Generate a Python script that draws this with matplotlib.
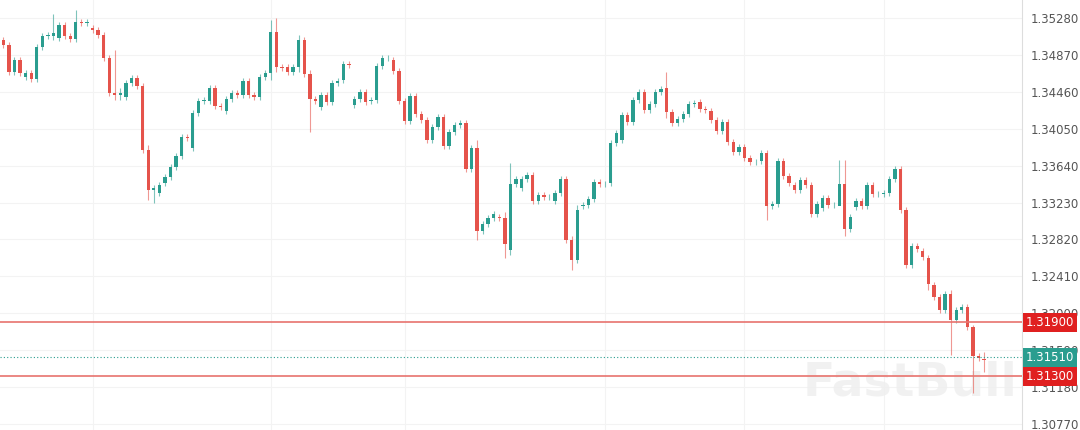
import numpy as np
import matplotlib.pyplot as plt
from matplotlib.patches import Rectangle

body_px = [
    (40, 45), (45, 72), (72, 60), (60, 73), (77, 73), (73, 79), (79, 47), (47, 36), (36, 35), (36, 33),
    (38, 25), (25, 36), (36, 39), (39, 22), (22, 23), (23, 22), (28, 30), (30, 35), (35, 58), (58, 93),
    (93, 95), (95, 93), (97, 83), (83, 78), (78, 86), (86, 150), (150, 190), (190, 188), (193, 185), (183, 177),
    (177, 167), (167, 156), (156, 137), (137, 138), (148, 113), (113, 101), (101, 100), (101, 88), (88, 106), (106, 107),
    (111, 99), (99, 93), (93, 95), (95, 81), (81, 95), (95, 97), (97, 77), (77, 73), (73, 32), (32, 67),
    (67, 68), (67, 72), (72, 67), (67, 40), (40, 74), (74, 99), (99, 101), (107, 95), (95, 102), (102, 83),
    (83, 81), (80, 64), (64, 65), (105, 99), (99, 92), (92, 102), (101, 100), (100, 66), (66, 58), (58, 58),
    (60, 71), (71, 101), (101, 121), (121, 96), (96, 114), (114, 120), (120, 140), (140, 127), (127, 117), (117, 146),
    (146, 132), (132, 125), (125, 123), (123, 169), (169, 148), (148, 231), (231, 224), (224, 218), (218, 214), (217, 218),
    (218, 244), (250, 184), (184, 179), (188, 179), (179, 175), (175, 201), (201, 195), (195, 197), (197, 197), (201, 193),
    (193, 179), (179, 240), (240, 260), (260, 210), (206, 205), (205, 199), (199, 182), (182, 184), (184, 184), (183, 143),
    (143, 133), (140, 115), (115, 122), (122, 100), (100, 92), (92, 110), (110, 104), (104, 92), (92, 89), (88, 112),
    (112, 123), (123, 119), (119, 114), (114, 104), (104, 103), (102, 109), (109, 110), (111, 120), (120, 131), (131, 122),
    (122, 142), (142, 152), (152, 147), (147, 158), (158, 162), (162, 162), (161, 153), (153, 206), (206, 204), (204, 161),
    (161, 176), (176, 183), (185, 190), (190, 180), (180, 185), (185, 214), (214, 204), (208, 198), (198, 205), (205, 205),
    (206, 184), (184, 229), (229, 217), (207, 201), (201, 206), (206, 185), (185, 194), (194, 194), (194, 193), (193, 179),
    (179, 169), (169, 210), (210, 265), (265, 246), (246, 249), (251, 257), (258, 284), (285, 297), (297, 310), (310, 294),
    (294, 320), (320, 310), (310, 307), (307, 327), (327, 356), (356, 358), (359, 360),
]
# notable wick ends (candle index: (high_px, low_px))
wick_px = {
    9: (14, 40), 13: (10, 42), 20: (50, 100), 21: (88, 100), 26: (145, 200), 27: (185, 203),
    48: (20, 80), 49: (18, 72), 53: (35, 72), 55: (70, 132), 85: (140, 240), 90: (212, 258),
    91: (163, 255), 102: (236, 270), 103: (205, 263), 119: (72, 118), 137: (150, 220), 151: (160, 236),
    150: (160, 192), 166: (255, 290), 170: (290, 355), 174: (325, 393), 176: (352, 372),
}
px_top, px_bottom = 18, 424          # rows of the 1.35280 and 1.30770 labels
p_top, p_bottom = 1.35280, 1.30770
tick_prices = np.round(np.arange(1.35280, 1.30700, -0.0041), 5)
res_hi, last_price, res_lo = 1.31900, 1.31510, 1.31300

def to_price(y):
    return p_top - (y - px_top) * (p_top - p_bottom) / (px_bottom - px_top)

opens = np.array([to_price(o) for o, c in body_px])
closes = np.array([to_price(c) for o, c in body_px])

green, red = '#2a9d8f', '#e5534b'
fig = plt.figure(figsize=(10.8, 4.3), dpi=100)
ax = fig.add_axes([0, 0, 1022 / 1080, 1])
ax.set_xlim(-0.6, 182.8)
ax.set_ylim(to_price(430), to_price(0))

for i, (o, c) in enumerate(zip(opens, closes)):
    col = green if c >= o else red
    if i in wick_px:
        hi, lo = to_price(wick_px[i][0]), to_price(wick_px[i][1])
    else:
        hi, lo = max(o, c) + 0.0003, min(o, c) - 0.0003
    ax.vlines(i, lo, hi, color=col, lw=0.8, alpha=0.6, zorder=2)
    h = max(abs(c - o), 0.00004)
    ax.add_patch(Rectangle((i - 0.3, min(o, c)), 0.6, h, color=col, lw=0, zorder=3))

for p in tick_prices:
    ax.axhline(p, color='#f3f3f3', lw=0.8, zorder=0)
for xg in [16, 48, 72, 108, 133, 158]:
    ax.axvline(xg, color='#f3f3f3', lw=0.8, zorder=0)

ax.axhline(res_hi, color='#e8736e', lw=1.2, zorder=4)
ax.axhline(res_lo, color='#e8736e', lw=1.2, zorder=4)
ax.axhline(last_price, color=green, lw=0.8, ls=(0, (1, 2)), zorder=4)

ax.text(0.89, 0.11, 'FastBull', transform=ax.transAxes, fontsize=34, fontweight='bold',
        color='#eeeeee', ha='center', va='center', alpha=0.8, zorder=1)

for s in ['top', 'left', 'bottom']:
    ax.spines[s].set_visible(False)
ax.spines['right'].set_color('#dddddd')
ax.set_xticks([])
ax.yaxis.tick_right()
ax.set_yticks(tick_prices)
ax.set_yticklabels([f'{p:.5f}' for p in tick_prices])
ax.tick_params(axis='y', length=0, labelsize=8.5, labelcolor='#555555', pad=6)

for p, col in [(res_hi, '#e02020'), (last_price, green), (res_lo, '#e02020')]:
    ax.text(1.004, p, f'{p:.5f}', transform=ax.get_yaxis_transform(), fontsize=8.5,
            color='white', va='center', ha='left', zorder=6,
            bbox=dict(boxstyle='square,pad=0.25', fc=col, ec='none'))

fig.savefig('out.png', dpi=100)
